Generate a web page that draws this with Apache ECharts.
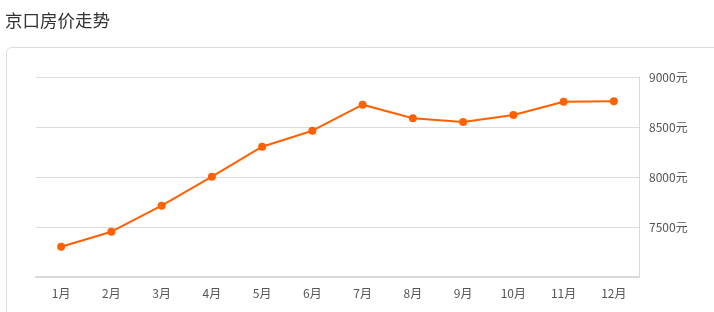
<!DOCTYPE html>
<html><head><meta charset="utf-8">
<script src="https://cdn.jsdelivr.net/npm/echarts@6/dist/echarts.min.js"></script>
<style>html,body{margin:0;padding:0;background:#fff}#c{width:714px;height:312px}</style>
</head><body><div id="c"></div>
<script>
const titleText = '京口房价走势';
const months = ['1月','2月','3月','4月','5月','6月','7月','8月','9月','10月','11月','12月'];
const prices = [7303, 7453, 7713, 8003, 8303, 8463, 8723, 8587, 8550, 8620, 8753, 8757];
const yMin = 7000, yMax = 9000, yStep = 500;
const unit = '元';

const chart = echarts.init(document.getElementById('c'), null, {renderer:'canvas'});
chart.setOption({
  animation: false,
  textStyle: {fontFamily: '"Noto Sans CJK SC", "Noto Sans", sans-serif'},
  title: {text: titleText, left: 0, top: 7, textStyle: {fontSize: 17.5, fontWeight: 'normal', color: '#333', fontFamily: '"Noto Sans CJK SC", sans-serif'}},
  graphic: [{type: 'rect', z: -1, shape: {x: 6.5, y: 47.5, width: 800, height: 400, r: 5}, style: {fill: 'none', stroke: '#dcdcdc', lineWidth: 1}}],
  grid: {left: 36, right: 75, top: 77, bottom: 35},
  xAxis: {
    type: 'category', data: months, boundaryGap: true,
    axisLine: {lineStyle: {color: '#d9d9d9', width: 2}},
    axisTick: {alignWithLabel: true, length: 5, lineStyle: {color: '#d9d9d9'}},
    axisLabel: {color: '#555', fontSize: 12, margin: 10}
  },
  yAxis: {
    type: 'value', position: 'right', min: yMin, max: yMax, interval: yStep,
    axisLine: {show: true, lineStyle: {color: '#d9d9d9', width: 1}},
    axisTick: {show: false},
    splitLine: {lineStyle: {color: '#dcdcdc'}},
    axisLabel: {color: '#555', fontSize: 12, margin: 10, showMinLabel: false, formatter: v => v + unit}
  },
  series: [{
    type: 'line', data: prices, symbol: 'circle', symbolSize: 8,
    itemStyle: {color: '#ff6000'}, lineStyle: {color: '#ff6000', width: 2}
  }]
});
</script></body></html>
